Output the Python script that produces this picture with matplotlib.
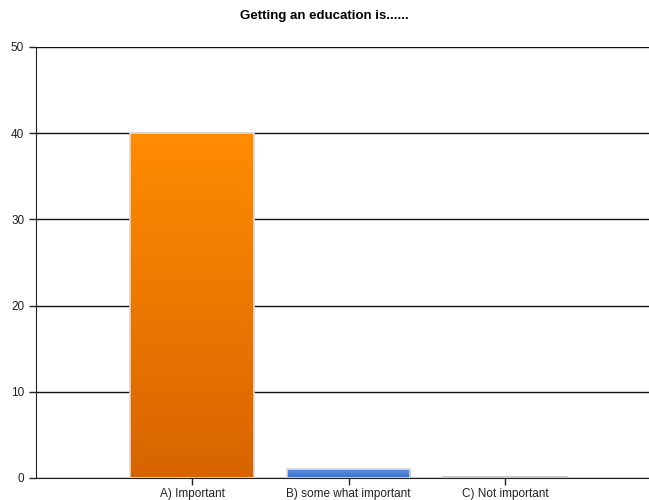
import numpy as np
import matplotlib.pyplot as plt
from matplotlib.colors import LinearSegmentedColormap

categories = ["A) Important", "B) some what important", "C) Not important"]
values = [40, 1, 0]
top_colors = ["#FF8C00", "#5A8FE3", "#D0D0D0"]
bottom_colors = ["#D86400", "#3F6FCB", "#B0B0B0"]

plt.rcParams['font.family'] = ['Liberation Sans', 'DejaVu Sans']

fig = plt.figure(figsize=(6.49, 5), dpi=100)
ax = fig.add_axes([36 / 649, 22 / 500, 613 / 649, 431 / 500])

x = np.arange(len(categories))
bars = ax.bar(x, values, width=0.79, color="none", edgecolor="#DADADA", linewidth=1.2, zorder=3)

# vertical gradient inside each bar
grad = np.linspace(0, 1, 256).reshape(-1, 1)
for b, c1, c2 in zip(bars, top_colors, bottom_colors):
    h = b.get_height()
    if h <= 0:
        ax.plot([b.get_x(), b.get_x() + b.get_width()], [0.1, 0.1], color="#C8C8C8", lw=1.5, zorder=4)
        continue
    cmap = LinearSegmentedColormap.from_list("g", [c2, c1])
    im = ax.imshow(grad, cmap=cmap, aspect="auto", origin="lower",
                   extent=[b.get_x(), b.get_x() + b.get_width(), 0, h], zorder=2)
    im.set_clip_path(b)

ax.set_xlim(-0.997, 2.92)
ax.set_ylim(0, 50)
ax.set_yticks([0, 10, 20, 30, 40, 50])
ax.set_xticks(x)
ax.set_xticklabels(categories, fontsize=8.5)
ax.tick_params(axis='y', labelsize=8.5, length=5, width=1, colors="#222222", labelcolor="#222222")
ax.tick_params(axis='x', length=5, width=1, colors="#222222", labelcolor="#222222", pad=2)
ax.grid(axis='y', color="#111111", linewidth=1, zorder=1)
ax.set_axisbelow(True)
for s in ['top', 'right']:
    ax.spines[s].set_visible(False)
ax.spines['left'].set_color("#222222")
ax.spines['bottom'].set_color("#222222")

fig.text(0.5, 0.967, "Getting an education is......", ha="center", va="center",
         fontsize=9.5, fontweight="bold")

fig.savefig("out.png", dpi=100)
